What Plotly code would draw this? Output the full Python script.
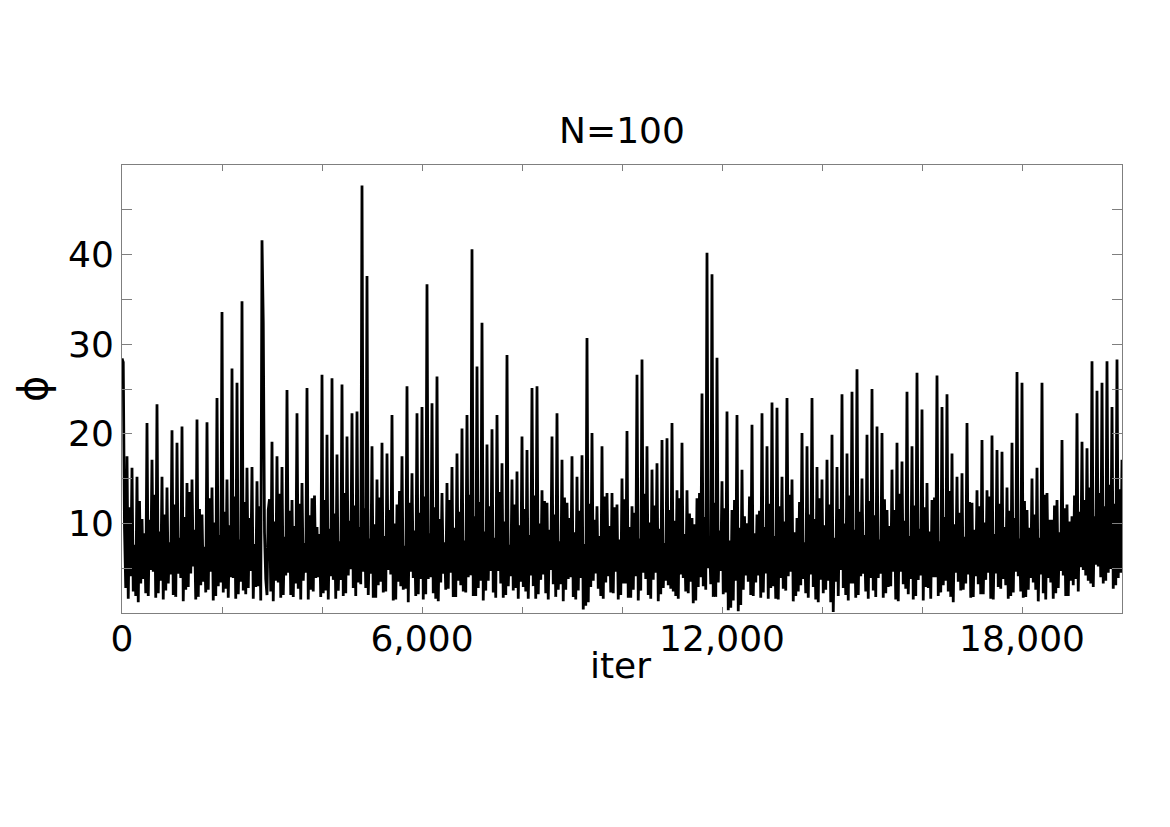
import plotly.graph_objects as go

# --- data ---
# phi_rows: pairs (up, down) every 100 iterations (peaks and troughs)
step = 25
phi_rows = [
    [28.4, 28.0, 17.5, 1.6, 16.2, 2.4, 15.2, 1.2, 10.5, 3.8, 21.2, 1.9, 17.1, 4.6, 23.3, 2.2, 15.2, 1.5, 14.0, 3.3],
    [20.4, 2.0, 19.0, 4.4, 20.8, 1.3, 14.5, 2.9, 14.9, 5.2, 21.6, 1.8, 11.0, 3.5, 21.3, 2.6, 14.0, 1.4, 24.0, 3.0],
    [33.6, 2.3, 14.9, 1.7, 27.3, 3.9, 25.7, 2.1, 34.8, 2.5, 16.2, 2.8, 16.3, 1.6, 14.7, 3.0, 41.6, 32.5, 2.0, 11.5],
    [19.1, 1.3, 17.5, 3.4, 16.3, 2.0, 24.9, 4.5, 12.6, 1.8, 22.3, 2.7, 14.5, 3.6, 25.1, 1.5, 12.8, 2.4, 9.6, 4.0],
    [26.6, 2.2, 19.9, 1.5, 26.2, 3.7, 17.7, 2.5, 25.5, 1.9, 19.7, 4.2, 22.3, 2.8, 22.5, 3.4, 47.7, 4.6, 37.6, 2.0],
    [18.6, 1.7, 14.9, 3.1, 19.0, 2.3, 17.8, 4.8, 22.1, 1.4, 12.1, 3.5, 17.5, 2.6, 25.3, 1.2, 15.6, 3.9, 22.3, 2.1],
    [23.0, 1.5, 36.7, 3.8, 23.4, 2.2, 26.4, 1.3, 13.4, 4.4, 14.5, 2.7, 16.3, 1.8, 17.8, 3.6, 20.6, 2.4, 22.1, 4.0],
    [40.6, 1.9, 27.5, 2.8, 32.4, 1.4, 18.8, 3.6, 20.5, 2.3, 22.1, 4.7, 16.7, 1.7, 28.8, 3.0, 14.9, 2.5, 15.8, 1.6],
    [19.7, 2.9, 18.2, 1.6, 25.1, 3.0, 25.3, 2.1, 13.7, 4.3, 12.3, 1.5, 19.7, 3.2, 22.3, 2.6, 17.1, 1.3, 12.3, 3.8],
    [17.5, 1.8, 15.2, 2.5, 17.6, 0.4, 30.7, 1.2, 20.1, 3.6, 11.9, 2.7, 18.6, 1.6, 13.4, 4.1, 13.4, 2.2, 12.1, 1.5],
    [15.0, 3.3, 20.3, 1.7, 11.9, 2.6, 26.6, 1.4, 28.3, 4.5, 18.6, 2.0, 16.0, 3.7, 16.7, 1.3, 19.3, 2.8, 19.5, 3.1],
    [21.2, 2.4, 13.7, 1.6, 19.0, 3.9, 13.7, 2.2, 10.6, 1.1, 12.8, 2.9, 24.5, 3.0, 40.2, 5.0, 37.8, 1.8, 28.5, 3.4],
    [14.7, 2.1, 22.5, 0.3, 11.5, 1.4, 22.1, 0.2, 16.0, 2.6, 10.0, 3.5, 21.0, 1.9, 11.0, 4.2, 22.3, 2.3, 18.6, 1.6],
    [23.5, 3.0, 22.9, 1.5, 15.2, 2.7, 24.0, 4.1, 14.9, 1.3, 10.6, 2.4, 20.1, 3.8, 18.6, 1.7, 24.0, 2.9, 16.3, 1.2],
    [14.9, 2.2, 17.1, 3.6, 19.9, 0.1, 16.3, 1.9, 24.4, 2.8, 17.8, 1.4, 24.7, 3.3, 27.2, 2.0, 15.0, 4.4, 19.9, 1.6],
    [25.0, 2.5, 20.8, 3.9, 20.1, 1.7, 11.5, 2.9, 16.0, 4.6, 19.0, 1.3, 16.9, 3.2, 24.7, 2.1, 18.6, 1.5, 26.8, 3.7],
    [22.7, 1.4, 14.5, 2.8, 12.6, 4.0, 26.5, 1.9, 23.0, 3.1, 24.4, 2.4, 17.8, 1.2, 15.2, 3.5, 15.6, 2.6, 21.2, 4.3],
    [12.3, 1.8, 13.7, 3.2, 19.3, 2.1, 13.7, 4.5, 19.8, 1.5, 18.2, 2.9, 18.0, 3.8, 14.0, 1.6, 19.0, 2.3, 26.9, 4.1],
    [25.7, 1.7, 11.5, 2.6, 15.0, 3.4, 16.2, 1.3, 25.7, 2.2, 13.4, 3.9, 10.4, 1.6, 12.6, 2.8, 19.3, 4.2, 12.1, 1.9],
    [10.8, 3.1, 22.3, 2.4, 19.1, 4.8, 18.4, 3.6, 28.1, 2.9, 24.8, 5.2, 25.7, 3.3, 28.1, 4.5, 23.0, 2.7, 28.3, 3.9],
]
# band_rows: pairs (mid, low) of the dense band between the peak/trough pairs
band_rows = [
    [9.5, 2.8, 11.8, 4.1, 7.6, 1.9, 12.5, 3.3, 8.9, 2.2, 10.4, 4.8, 13.2, 1.7, 9.1, 3.6, 11.0, 2.5, 7.9, 4.3],
    [12.1, 1.8, 8.4, 3.9, 10.7, 2.6, 13.5, 4.4, 9.3, 1.5, 11.6, 3.1, 7.4, 2.3, 12.8, 4.6, 10.1, 1.9, 8.7, 3.4],
    [11.3, 2.7, 9.8, 4.0, 13.0, 1.6, 8.2, 3.5, 12.4, 2.1, 10.6, 4.7, 7.7, 2.9, 11.9, 1.4, 9.0, 3.8, 12.7, 2.4],
    [10.2, 3.6, 13.3, 1.7, 8.5, 4.2, 11.4, 2.0, 9.7, 3.3, 12.2, 1.5, 7.8, 4.5, 10.9, 2.6, 13.1, 3.9, 8.8, 1.8],
    [12.6, 2.5, 9.4, 4.1, 11.1, 1.6, 8.0, 3.7, 13.4, 2.2, 10.3, 4.9, 12.0, 1.9, 9.6, 3.2, 11.7, 2.8, 8.3, 4.4],
    [9.9, 1.7, 12.9, 3.5, 8.6, 2.4, 11.5, 4.3, 10.0, 1.5, 13.6, 3.0, 7.5, 2.7, 12.3, 4.6, 9.2, 1.9, 11.2, 3.8],
    [13.0, 2.1, 8.9, 4.0, 11.8, 1.6, 10.5, 3.4, 7.9, 2.6, 12.6, 4.5, 9.5, 1.8, 11.3, 3.1, 8.1, 2.3, 13.2, 4.2],
    [10.8, 1.9, 12.4, 3.6, 9.1, 2.5, 11.9, 4.7, 8.4, 1.7, 13.5, 3.3, 10.2, 2.0, 7.6, 4.1, 12.1, 2.8, 9.8, 3.5],
    [11.6, 2.4, 8.7, 4.2, 13.1, 1.6, 10.0, 3.7, 12.5, 2.2, 9.3, 4.8, 11.0, 1.8, 8.0, 3.2, 12.9, 2.6, 10.6, 4.0],
    [9.0, 1.5, 11.4, 3.9, 7.7, 0.8, 12.2, 2.9, 10.4, 4.4, 8.6, 1.9, 13.0, 3.4, 9.7, 2.3, 11.8, 4.6, 8.2, 2.0],
    [12.7, 3.3, 9.6, 1.7, 11.2, 4.1, 8.3, 2.5, 13.3, 3.8, 10.1, 1.6, 12.0, 4.5, 9.4, 2.1, 7.8, 3.6, 11.5, 2.7],
    [10.3, 1.9, 12.8, 4.3, 8.8, 2.4, 11.1, 3.5, 9.9, 1.4, 13.4, 4.0, 10.7, 2.6, 8.5, 3.2, 12.3, 1.8, 9.2, 4.7],
    [11.7, 2.3, 8.1, 0.6, 12.6, 3.6, 9.5, 0.9, 10.8, 4.2, 13.0, 2.0, 8.9, 3.4, 11.4, 1.7, 9.6, 4.4, 12.2, 2.8],
    [8.6, 1.6, 11.9, 3.9, 10.2, 2.5, 13.2, 4.6, 9.0, 1.9, 12.4, 3.1, 7.9, 2.2, 11.0, 4.3, 10.5, 1.5, 12.8, 3.7],
    [9.8, 2.6, 12.1, 1.2, 8.4, 3.5, 11.6, 4.8, 10.0, 2.0, 13.1, 3.3, 9.3, 1.7, 11.3, 4.1, 8.7, 2.4, 12.5, 3.9],
    [10.9, 1.8, 8.2, 4.4, 12.7, 2.2, 9.7, 3.0, 11.5, 1.5, 13.3, 4.6, 10.3, 2.7, 8.6, 3.8, 12.0, 1.9, 9.4, 4.2],
    [11.8, 2.9, 9.1, 1.6, 12.9, 4.0, 8.0, 2.3, 10.7, 3.6, 13.6, 1.8, 9.9, 4.5, 11.2, 2.5, 8.5, 3.3, 12.4, 1.7],
    [9.3, 4.1, 11.9, 2.1, 10.1, 3.7, 13.0, 1.6, 8.8, 4.4, 12.2, 2.7, 9.6, 3.1, 11.4, 1.9, 10.6, 4.6, 8.3, 2.4],
    [12.5, 1.8, 9.5, 3.9, 11.0, 2.6, 8.4, 4.3, 13.2, 1.5, 10.4, 3.4, 12.0, 2.2, 9.0, 4.7, 11.7, 1.9, 10.2, 3.6],
    [13.1, 3.8, 11.3, 5.1, 12.6, 4.2, 14.0, 3.3, 10.8, 5.4, 13.4, 4.0, 11.9, 3.6, 14.3, 4.9, 12.2, 3.1, 13.8, 4.5],
]
phi_last = [17.1]

x_tickvals = [0, 2000, 4000, 6000, 8000, 10000, 12000, 14000, 16000, 18000, 20000]
x_ticktext = ["0", "", "", "6,000", "", "", "12,000", "", "", "18,000", ""]
y_tickvals = [0, 5, 10, 15, 20, 25, 30, 35, 40, 45, 50]
y_ticktext = ["", "", "10", "", "20", "", "30", "", "40", "", ""]

title_text = "N=100"
x_label = "iter"
y_label = "\u03d5"

# assemble the chain: peak, trough, band-mid, band-low for each 100-iteration block
phi = []
for prow, brow in zip(phi_rows, band_rows):
    for j in range(0, len(prow), 2):
        phi.extend([prow[j], prow[j + 1], brow[j], brow[j + 1]])
phi += phi_last
iters = [i * step for i in range(len(phi))]

FONT = "DejaVu Sans"
FS = 36
AXC = "#7f7f7f"
# page body has an 8 px margin: figure occupies 1154x811 starting at (8, 8)
W, H = 1154, 811
L, T = 114, 157
PW, PH = 1000, 448

fig = go.Figure()
fig.add_trace(go.Scatter(x=iters, y=phi, mode="lines",
                         line=dict(color="black", width=2.8),
                         showlegend=False, hoverinfo="skip"))

fig.update_layout(
    width=W, height=H,
    margin=dict(l=L, r=W - L - PW, t=T, b=H - T - PH, pad=0),
    paper_bgcolor="white", plot_bgcolor="white",
    font=dict(family=FONT, size=FS, color="black"),
    title=dict(text=title_text, x=0.5, xref="paper", xanchor="center",
               y=1 - 122 / H, yref="container", yanchor="middle",
               font=dict(family=FONT, size=FS, color="black")),
    xaxis=dict(range=[0, 20000], tickmode="array", tickvals=x_tickvals, ticktext=x_ticktext,
               ticks="inside", ticklen=6, tickwidth=1, tickcolor=AXC,
               showline=True, linecolor=AXC, linewidth=1, mirror="ticks",
               showgrid=False, zeroline=False, ticklabelstandoff=-6,
               tickfont=dict(family=FONT, size=FS, color="black")),
    yaxis=dict(range=[0, 50], tickmode="array", tickvals=y_tickvals, ticktext=y_ticktext,
               ticks="inside", ticklen=10, tickwidth=1, tickcolor=AXC,
               showline=True, linecolor=AXC, linewidth=1, mirror="ticks",
               showgrid=False, zeroline=False, ticklabelstandoff=0,
               tickfont=dict(family=FONT, size=FS, color="black")),
    annotations=[
        dict(text=x_label, xref="paper", yref="paper", x=0.498, y=-(665 - 613) / PH,
             xanchor="center", yanchor="middle", showarrow=False,
             font=dict(family=FONT, size=FS, color="black")),
        dict(text=y_label, xref="paper", yref="paper", x=-(122 - 33) / PW, y=0.5,
             xanchor="center", yanchor="middle", showarrow=False, textangle=-90,
             font=dict(family=FONT, size=40, color="black")),
    ],
)

fig.write_html("out.html")
